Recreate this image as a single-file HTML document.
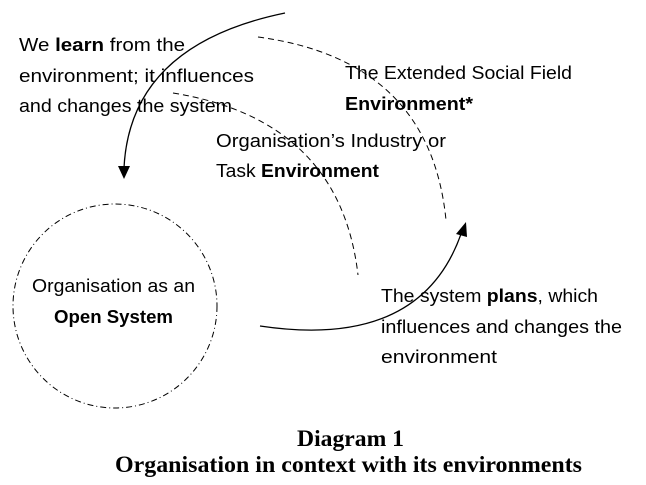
<!DOCTYPE html>
<html><head><style>
body{margin:0;width:646px;height:485px;background:#fff;position:relative;overflow:hidden}
svg{position:absolute;left:0;top:0}
.t{font-family:"Liberation Sans",sans-serif;font-size:18.5px;fill:#000}
.c{font-family:"Liberation Serif",serif;font-size:23px;font-weight:bold;fill:#000}
</style></head><body>
<svg width="646" height="485" viewBox="0 0 646 485">
<ellipse cx="115" cy="306" rx="102" ry="102" fill="none" stroke="#000" stroke-width="1" stroke-dasharray="6,3,1,3"/>
<path d="M258,37 Q430,60 446,220" fill="none" stroke="#000" stroke-dasharray="6,4"/>
<path d="M173,93 Q340,120 358,275" fill="none" stroke="#000" stroke-dasharray="6,4"/>
<path d="M285,13 Q130,45 124,168" fill="none" stroke="#000" stroke-width="1.3"/>
<polygon points="118,166 130,166 124,179" fill="#000"/>
<path d="M260,326 Q420,350 461,234" fill="none" stroke="#000" stroke-width="1.3"/>
<polygon points="456,234 467,237 466,222" fill="#000"/>
<text class="t" x="19" y="51" textLength="166" lengthAdjust="spacingAndGlyphs">We <tspan font-weight="bold">learn</tspan> from the</text>
<text class="t" x="19" y="82" textLength="235" lengthAdjust="spacingAndGlyphs">environment; it influences</text>
<text class="t" x="19" y="112" textLength="213" lengthAdjust="spacingAndGlyphs">and changes the system</text>
<text class="t" x="345" y="79" textLength="227" lengthAdjust="spacingAndGlyphs">The Extended Social Field</text>
<text class="t" x="345" y="110" font-weight="bold" textLength="128" lengthAdjust="spacingAndGlyphs">Environment*</text>
<text class="t" x="216" y="147" textLength="230" lengthAdjust="spacingAndGlyphs">Organisation’s Industry or</text>
<text class="t" x="216" y="177" textLength="163" lengthAdjust="spacingAndGlyphs">Task <tspan font-weight="bold">Environment</tspan></text>
<text class="t" x="32" y="292" textLength="163" lengthAdjust="spacingAndGlyphs">Organisation as an</text>
<text class="t" x="54" y="323" font-weight="bold" textLength="119" lengthAdjust="spacingAndGlyphs">Open System</text>
<text class="t" x="381" y="302" textLength="217" lengthAdjust="spacingAndGlyphs">The system <tspan font-weight="bold">plans</tspan>, which</text>
<text class="t" x="381" y="333" textLength="241" lengthAdjust="spacingAndGlyphs">influences and changes the</text>
<text class="t" x="381" y="363" textLength="116" lengthAdjust="spacingAndGlyphs">environment</text>
<text class="c" x="297" y="446" textLength="107" lengthAdjust="spacingAndGlyphs">Diagram 1</text>
<text class="c" x="115" y="472" textLength="467" lengthAdjust="spacingAndGlyphs">Organisation in context with its environments</text>
</svg>
</body></html>
